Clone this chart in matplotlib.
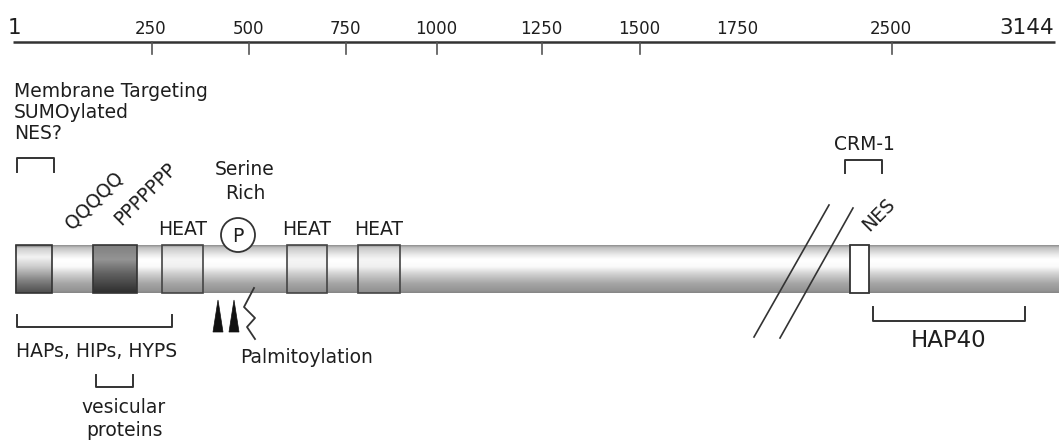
import numpy as np
import matplotlib
matplotlib.use("Agg")
import matplotlib.pyplot as plt
from matplotlib.patches import Rectangle, Circle, Polygon

# ---------------- data (labels) ----------------
ruler_labels = ['1', '250', '500', '750', '1000', '1250', '1500', '1750', '2500', '3144']
ruler_ticked = ['250', '500', '750', '1000', '1250', '1500', '2500']
nterm_labels = ['Membrane Targeting', 'SUMOylated', 'NES?']
repeat_labels = ['QQQQQ', 'PPPPPPP']
heat_labels = ['HEAT', 'HEAT', 'HEAT']
serine_labels = ['Serine', 'Rich']
phospho_label = 'P'
palm_label = 'Palmitoylation'
interactor_label = 'HAPs, HIPs, HYPS'
vesicular_labels = ['vesicular', 'proteins']
crm_label = 'CRM-1'
nes_label = 'NES'
hap40_label = 'HAP40'

# ---------------- layout (pixel space) ----------------
W, H = 1059, 441
ruler_x = [8, 151, 248, 345, 436, 541, 639, 737, 891, 1054]
ruler_y_line = 42
bar_x0, bar_x1, bar_y0, bar_y1 = 15, 1059, 245, 293
box_x = {'nterm': (16, 52), 'ppp': (93, 137), 'heat1': (162, 203),
         'heat2': (287, 327), 'heat3': (358, 400), 'nes': (850, 869)}

TXT = '#1e1e1e'
LN = '#333333'
FS = 13.5

fig = plt.figure(figsize=(W / 100, H / 100), dpi=100)
ax = fig.add_axes([0, 0, 1, 1])


def grad_rect(x0, x1, y0, y1, pos, vals, z, edge=None, lw=1.2):
    fr = np.linspace(0, 1, 200)
    img = np.interp(fr, pos, vals)[:, None]
    ax.imshow(img, cmap='gray', vmin=0, vmax=1, extent=(x0, x1, y1, y0),
              origin='upper', aspect='auto', interpolation='bilinear', zorder=z)
    if edge is not None:
        ax.add_patch(Rectangle((x0, y0), x1 - x0, y1 - y0, fill=False,
                               ec=edge, lw=lw, zorder=z + 0.1))


# ---------------- ruler ----------------
ax.plot([13, 1055], [ruler_y_line, ruler_y_line], color='#333333', lw=1.8,
        solid_capstyle='butt', zorder=2)
for lab, x in zip(ruler_labels, ruler_x):
    if lab == '1':
        ax.text(x, 34, lab, ha='left', va='baseline', fontsize=15.5, color=TXT)
    elif lab == '3144':
        ax.text(x, 34, lab, ha='right', va='baseline', fontsize=15.5, color=TXT)
    else:
        ax.text(x, 34, lab, ha='center', va='baseline', fontsize=12, color=TXT)
    if lab in ruler_ticked:
        ax.plot([x + 1, x + 1], [ruler_y_line, 54], color='#555555', lw=1.2, zorder=2)

# ---------------- main bar ----------------
bar_pos = [0, 0.05, 0.2, 0.3, 0.45, 0.6, 0.8, 0.95, 1]
bar_val = [0.55, 0.75, 0.92, 1.0, 0.98, 0.82, 0.65, 0.58, 0.52]
grad_rect(bar_x0, bar_x1, bar_y0, bar_y1, bar_pos, bar_val, z=1)

# domain boxes
x0, x1 = box_x['nterm']
grad_rect(x0, x1, bar_y0, bar_y1, [0, 0.06, 0.25, 0.45, 0.75, 1],
          [0.4, 0.8, 0.95, 0.8, 0.5, 0.3], z=2, edge='#333333')
x0, x1 = box_x['ppp']
grad_rect(x0, x1, bar_y0, bar_y1, [0, 0.3, 0.6, 1],
          [0.5, 0.58, 0.38, 0.18], z=2, edge='#333333')
for k in ['heat1', 'heat2', 'heat3']:
    x0, x1 = box_x[k]
    grad_rect(x0, x1, bar_y0, bar_y1, bar_pos,
              [0.55, 0.78, 0.9, 0.96, 0.94, 0.8, 0.65, 0.58, 0.55], z=2, edge='#444444')
x0, x1 = box_x['nes']
ax.add_patch(Rectangle((x0, bar_y0), x1 - x0, bar_y1 - bar_y0, fc='white',
                       ec='#333333', lw=1.3, zorder=3))

# break marks
ax.plot([829, 754], [205, 337], color='#333333', lw=1.2, zorder=4)
ax.plot([853, 780], [208, 338], color='#333333', lw=1.2, zorder=4)

# ---------------- N-terminal annotations ----------------
for lab, yb in zip(nterm_labels, [97, 118, 139]):
    ax.text(14, yb, lab, ha='left', va='baseline', fontsize=FS, color=TXT)
ax.plot([17, 17, 54, 54], [172, 158, 158, 172], color=LN, lw=1.4)

ax.text(94, 200, repeat_labels[0], rotation=45, rotation_mode='anchor',
        ha='center', va='center', fontsize=FS, color=TXT)
ax.text(145, 194, repeat_labels[1], rotation=45, rotation_mode='anchor',
        ha='center', va='center', fontsize=FS, color=TXT)

for lab, k in zip(heat_labels, ['heat1', 'heat2', 'heat3']):
    cx = sum(box_x[k]) / 2
    ax.text(cx, 235, lab, ha='center', va='baseline', fontsize=FS, color=TXT)

for lab, yb in zip(serine_labels, [175, 199]):
    ax.text(245, yb, lab, ha='center', va='baseline', fontsize=FS, color=TXT)

ax.add_patch(Circle((238, 235), 17, fc='white', ec='#333333', lw=1.3, zorder=5))
ax.text(238, 236, phospho_label, ha='center', va='center', fontsize=FS,
        color=TXT, zorder=6)

# palmitoylation marks
for xl in [213, 229]:
    ax.add_patch(Polygon([(xl, 332), (xl + 5, 300), (xl + 10, 332)],
                         closed=True, fc='#111111', ec='#111111', lw=0.5, zorder=3))
ax.plot([254, 244, 255, 247, 255], [288, 307, 318, 327, 339], color=LN, lw=1.3)
ax.text(240, 363, palm_label, ha='left', va='baseline', fontsize=FS, color=TXT)

# interactor brackets
ax.plot([17, 17, 172, 172], [315, 327, 327, 315], color=LN, lw=1.4)
ax.text(16, 357, interactor_label, ha='left', va='baseline', fontsize=FS, color=TXT)
ax.plot([96, 96, 133, 133], [375, 387, 387, 375], color=LN, lw=1.4)
for lab, yb in zip(vesicular_labels, [413, 436]):
    ax.text(124, yb, lab, ha='center', va='baseline', fontsize=FS, color=TXT)

# ---------------- C-terminal annotations ----------------
ax.text(864, 150, crm_label, ha='center', va='baseline', fontsize=FS, color=TXT)
ax.plot([845, 845, 882, 882], [173, 160, 160, 173], color=LN, lw=1.4)
ax.text(879, 215, nes_label, rotation=45, rotation_mode='anchor',
        ha='center', va='center', fontsize=FS, color=TXT)
ax.plot([873, 873, 1025, 1025], [307, 321, 321, 307], color=LN, lw=1.4)
ax.text(949, 347, hap40_label, ha='center', va='baseline', fontsize=16.5, color=TXT)

ax.set_xlim(0, W)
ax.set_ylim(H, 0)
ax.axis('off')
fig.savefig('out.png', dpi=100, facecolor='white')
